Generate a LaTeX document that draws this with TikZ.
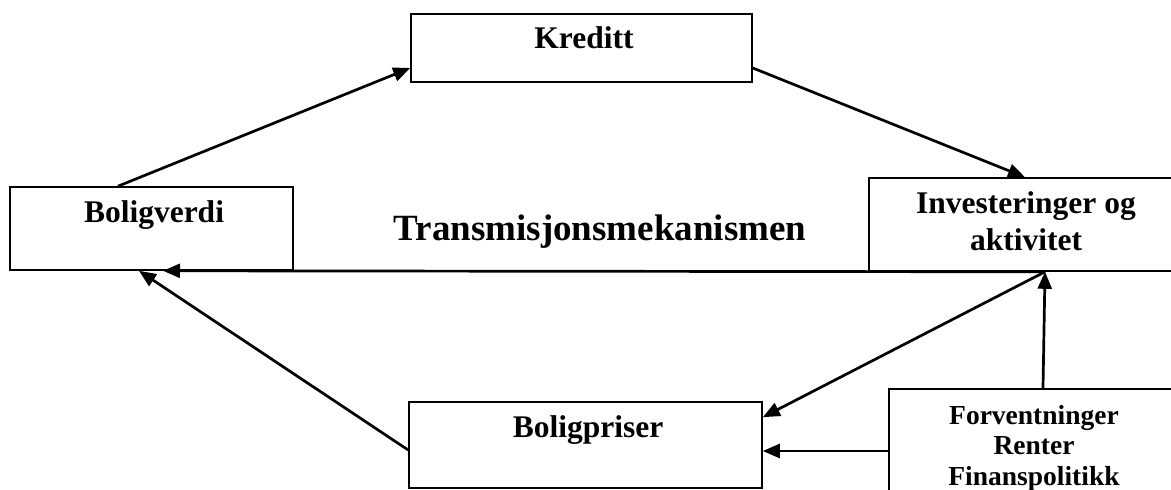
\documentclass[tikz,border=0pt]{standalone}
\usepackage{fontspec}
\setmainfont{Liberation Serif}
\usetikzlibrary{arrows.meta}
\tikzset{
  boks/.style={draw,rectangle,line width=1.6pt,inner sep=0pt},
  tekst/.style={font=\bfseries\fontsize{31.5}{37}\selectfont,align=center,inner sep=0pt},
  pil/.style={-{Triangle[length=17pt,width=14pt]},line width=2.7pt}
}
\begin{document}
\begin{tikzpicture}
[x=1pt,y=-1pt]
\clip (0,0) rectangle (1171,490);
% Boxes of the diagram

\node(KR)[boks,minimum width=341pt,minimum height=68pt] at (581.5,48) {};
\node(BV)[boks,minimum width=283pt,minimum height=83pt] at (151.5,228.5) {};
\node(IA)[boks,minimum width=312pt,minimum height=93pt] at (1025,224.5) {};
\node(BP)[boks,minimum width=353pt,minimum height=86pt] at (585.5,445) {};
\node(FR)[boks,minimum width=292pt,minimum height=121pt] at (1035,449.5) {};

% Texts
\node(KRt)[tekst,anchor=base] at (584,48) {Kreditt};
\node(BVt)[tekst,anchor=base] at (154,222) {Boligverdi};
\node(IAt)[tekst] at (1026,221) {Investeringer og\\aktivitet};
\node(BPt)[tekst,anchor=base] at (588,437) {Boligpriser};
\node(FRt)[tekst,font=\bfseries\fontsize{27.5}{30.5}\selectfont] at (1034,448) {Forventninger\\Renter\\Finanspolitikk};
\node(TM)[font=\bfseries\fontsize{37}{44}\selectfont,anchor=base,inner sep=0pt] at (600,240) {Transmisjonsmekanismen};

% Arrows
\draw[pil] ([xshift=-33.5pt]BV.north) to ([yshift=-20pt]KR.west);
\draw[pil] ([yshift=-20pt]KR.east) to (IA.north);
\draw[pil] ([xshift=20pt]IA.south) to ([xshift=11.5pt]BV.south);
\draw[pil] ([xshift=20pt]IA.south) to ([yshift=-16pt]BP.north east);
\draw[pil] ([xshift=8pt]FR.north) to ([xshift=20pt]IA.south);
\draw[pil] ([yshift=-1.5pt]FR.west) to ([yshift=-6pt]BP.east);
\draw[pil] ([yshift=-5pt]BP.west) to ([xshift=-12.5pt]BV.south);
\end{tikzpicture}
\end{document}
